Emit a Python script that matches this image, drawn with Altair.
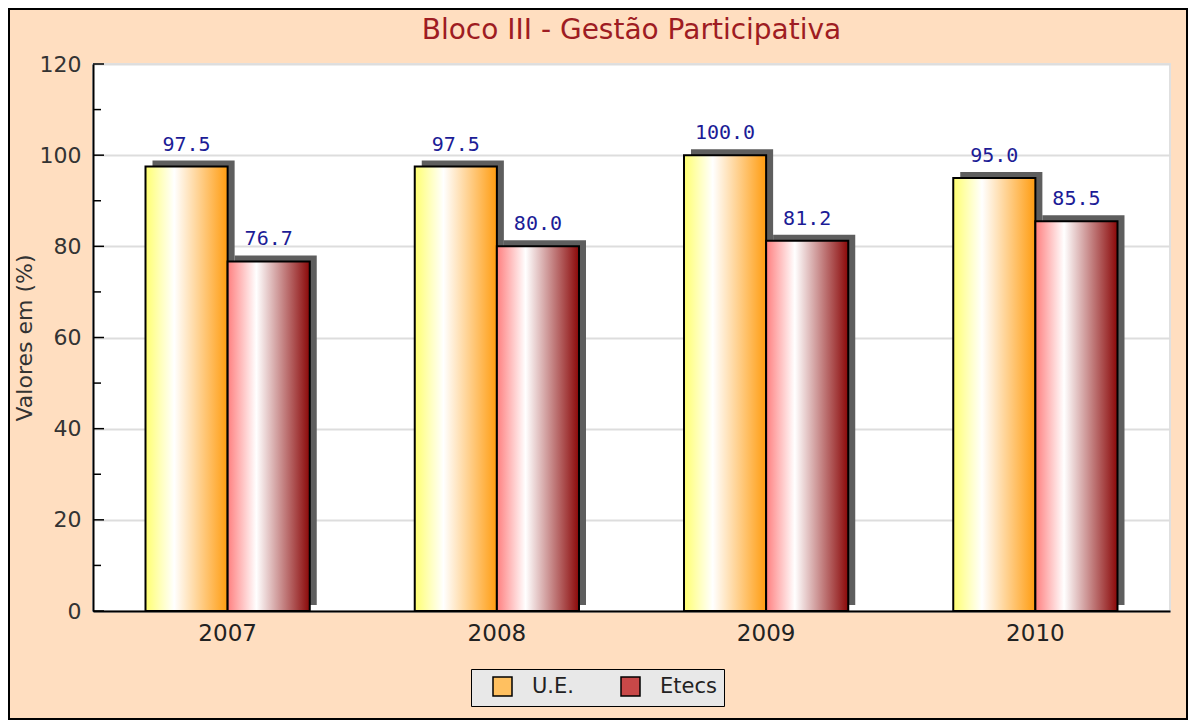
import altair as alt
import pandas as pd

years = ["2007", "2008", "2009", "2010"]
ue = [97.5, 97.5, 100.0, 95.0]
etecs = [76.7, 80.0, 81.2, 85.5]
series = ["U.E.", "Etecs"]
major_ticks = [0, 20, 40, 60, 80, 100, 120]
minor_ticks = [10, 30, 50, 70, 90, 110]

rows = []
for i, yr in enumerate(years):
    rows.append({"year": yr, "series": "U.E.", "value": ue[i]})
    rows.append({"year": yr, "series": "Etecs", "value": etecs[i]})
df = pd.DataFrame(rows)
major_df = pd.DataFrame({"v": major_ticks})
minor_df = pd.DataFrame({"v": minor_ticks})

W, H = 1077, 547
FONT = "DejaVu Sans"
P_INNER = 0.39
BANDWIDTH = W / 4 * (1 - P_INNER)
SHADOW_DX = 7
NBSP = "\u00a0" * 4

grad_ue = alt.Gradient(
    gradient="linear", x1=0, x2=1, y1=0, y2=0,
    stops=[alt.GradientStop(offset=0, color="#FFFF70"),
           alt.GradientStop(offset=0.35, color="#FFFFFF"),
           alt.GradientStop(offset=1, color="#FF9C10")])
grad_et = alt.Gradient(
    gradient="linear", x1=0, x2=1, y1=0, y2=0,
    stops=[alt.GradientStop(offset=0, color="#FF8080"),
           alt.GradientStop(offset=0.35, color="#FFFFFF"),
           alt.GradientStop(offset=1, color="#8A0808")])

xs = alt.X("year:N", title=None,
           scale=alt.Scale(paddingInner=P_INNER, paddingOuter=P_INNER / 2),
           axis=alt.Axis(labelFont=FONT, labelFontSize=23, labelColor="#222222",
                         labelAngle=0, ticks=False, labelPadding=11,
                         domainColor="#000000", domainWidth=2, grid=False))
ys = alt.Y("value:Q", title="Valores em (%)",
           scale=alt.Scale(domain=[0, 120], nice=False),
           axis=alt.Axis(values=major_ticks, labelFont=FONT,
                         labelFontSize=22, labelColor="#333333", ticks=False,
                         labelPadding=12, domainColor="#000000", domainWidth=2,
                         grid=True, gridColor="#DDDDDD", gridWidth=2,
                         titleFont=FONT, titleFontSize=22, titleFontWeight="normal",
                         titleColor="#333333", titlePadding=3))
xo = alt.XOffset("series:N", scale=alt.Scale(domain=series))
xo_shadow = alt.XOffset("series:N", scale=alt.Scale(
    domain=series, range=[SHADOW_DX, BANDWIDTH + SHADOW_DX]))

base = alt.Chart(df)

shadow = base.mark_bar(fill="#5E5E5E", yOffset=-6, y2Offset=-6).encode(
    x=xs, y=ys, xOffset=xo_shadow)

bars = base.mark_bar(stroke="#000000", strokeWidth=2).encode(
    x=xs, y=ys, xOffset=xo,
    fill=alt.condition(alt.datum.series == "U.E.", alt.value(grad_ue), alt.value(grad_et)))

labels = base.mark_text(font="DejaVu Sans Mono", fontSize=20, color="#1C1C96",
                        baseline="alphabetic", dy=-16).encode(
    x=xs, y=ys, xOffset=xo, text=alt.Text("value:Q", format=".1f"))

legend_layer = base.mark_point(filled=True, size=1, opacity=0).encode(
    x=xs, y=ys,
    fill=alt.Fill("series:N",
                  scale=alt.Scale(domain=series, range=["#FFC060", "#C84848"]),
                  legend=alt.Legend(title=None, orient="none", legendX=378, legendY=605,
                                    direction="horizontal", fillColor="#E8E8E8",
                                    strokeColor="#000000", padding=7,
                                    symbolType="square", symbolSize=361,
                                    symbolOpacity=1, symbolStrokeColor="#000000",
                                    symbolStrokeWidth=1.5, symbolOffset=14,
                                    labelFont=FONT, labelFontSize=21,
                                    labelColor="#222222", labelOffset=19,
                                    labelExpr="datum.label == 'Etecs' ? datum.label + '" + NBSP + "' : datum.label",
                                    columnPadding=32)))

yt = alt.Y("v:Q", scale=alt.Scale(domain=[0, 120], nice=False))
major_marks = alt.Chart(major_df).mark_rule(color="#000000", strokeWidth=1.5).encode(
    y=yt, x=alt.value(0), x2=alt.value(11))
minor_marks = alt.Chart(minor_df).mark_rule(color="#000000", strokeWidth=1.5).encode(
    y=yt, x=alt.value(0), x2=alt.value(8))

frame = alt.Chart(df).mark_rect(filled=False, stroke="#000000", strokeWidth=2).encode(
    x=alt.value(-84), x2=alt.value(W + 17), y=alt.value(-55), y2=alt.value(H + 108))

chart = alt.layer(frame, legend_layer, shadow, bars, labels, major_marks, minor_marks).resolve_scale(
    xOffset="independent"
).properties(
    width=W, height=H,
    title=alt.TitleParams("Bloco III - Gestão Participativa", font=FONT, fontSize=28,
                          fontWeight="normal", color="#9E1C22", anchor="middle",
                          frame="group", offset=18, dy=55),
    background="#FFDEC0",
    padding={"left": 85, "top": 56, "right": 18, "bottom": 109},
    autosize=alt.AutoSizeParams(type="none"),
).configure_view(fill="#FFFFFF", stroke="#E0E0E0", strokeWidth=2)

chart.save("out.html", embed_options={"renderer": "svg", "actions": False})
